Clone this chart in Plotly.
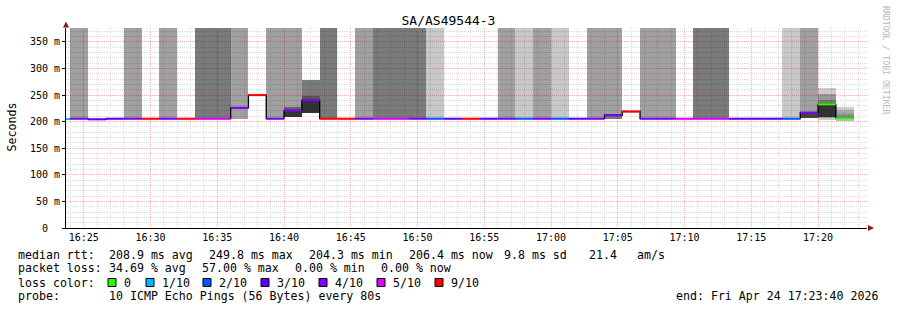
import pandas as pd
import plotly.graph_objects as go

# ---------------- data ----------------
TITLE = "SA/AS49544-3"
T_START = "2026-04-24 16:23:40"
T_END = "2026-04-24 17:23:40"
Y_TOP = 376  # top of value axis (ms)

# interval start times: one partial interval, then 44 x 80 s polling steps
bin_starts = pd.to_datetime([T_START] + list(pd.date_range("2026-04-24 16:24:00", periods=44, freq="80s")))
bin_ends = list(bin_starts[1:]) + [pd.Timestamp("2026-04-24 17:22:40")]

median_ms = [205.0,
             205.5, 204.3, 205.5, 205.5, 205.5, 205.5, 205.5, 205.5, 205.5, 226.0,
             249.8, 205.5, 221.0, 240.0, 205.5, 205.5, 205.5, 205.5, 205.5, 205.5,
             205.5, 205.5, 205.5, 205.5, 205.5, 205.5, 205.5, 205.5, 205.5, 205.5,
             212.0, 219.0, 205.5, 205.5, 205.5, 205.5, 205.5, 205.5, 205.5, 205.5,
             205.5, 217.0, 232.5, 206.4]

loss_tenths = [1,
               4, 3, 3, 4, 9, 4, 9, 5, 5, 4,
               9, 4, 4, 4, 9, 9, 4, 5, 5, 4,
               2, 3, 9, 3, 4, 2, 4, 2, 3, 4,
               4, 9, 4, 4, 5, 5, 5, 3, 3, 3,
               2, 4, 0, 0]

# loss background density: 0 none, 1 light, 2 medium, 3 dark
band_level = [0,
              2, 0, 0, 2, 0, 2, 0, 3, 3, 2,
              0, 2, 2, 0, 3, 0, 2, 3, 3, 3,
              1, 0, 0, 0, 2, 1, 2, 1, 0, 2,
              2, 0, 2, 2, 0, 3, 3, 0, 0, 0,
              1, 2, 0, 0]
band_low_ms = [204.5,
               204.5, 204.5, 204.5, 204.5, 204.5, 204.5, 204.5, 204.5, 204.5, 204.5,
               204.5, 204.5, 227.7, 204.5, 204.5, 204.5, 204.5, 204.5, 204.5, 204.5,
               204.5, 204.5, 204.5, 204.5, 204.5, 204.5, 204.5, 204.5, 204.5, 204.5,
               214.5, 204.5, 204.5, 204.5, 204.5, 204.5, 204.5, 204.5, 204.5, 204.5,
               204.5, 218.0, 204.5, 204.5]

# smoke layers (interval index, low ms, high ms, grey value)
smoke_bin = [13, 13, 14, 14, 14, 31, 42, 43, 43, 43, 43, 43, 43, 44, 44, 44, 44, 44]
smoke_lo = [222.0, 209.5, 248.0, 241.5, 217.0, 205.7, 206.0, 252.0, 241.0, 233.0, 209.0, 206.0, 203.0,
            222.0, 217.0, 212.6, 207.0, 202.0]
smoke_hi = [227.7, 220.7, 278.5, 248.0, 239.5, 214.5, 217.0, 263.5, 252.0, 241.0, 232.0, 209.0, 206.0,
            228.0, 222.0, 217.0, 212.6, 205.5]
smoke_grey = [0x66, 0x33, 0x7a, 0x55, 0x33, 0x77, 0x44, 0xcc, 0x99, 0x77, 0x33, 0x99, 0xcc,
              0xcc, 0xaa, 0x99, 0x88, 0xbb]

y_tickvals = [0, 50, 100, 150, 200, 250, 300, 350]
y_ticktext = ["0\u00a0\u00a0", "50 m", "100 m", "150 m", "200 m", "250 m", "300 m", "350 m"]

loss_levels = [0, 1, 2, 3, 4, 5, 9]
loss_labels = ["0", "1/10", "2/10", "3/10", "4/10", "5/10", "9/10"]
loss_colors = ["#26ff00", "#00b8ff", "#0059ff", "#5e00ff", "#7e00ff", "#dd00ff", "#ff0000"]

legend_rtt = ["median rtt:", "208.9 ms avg", "249.8 ms max", "204.3 ms min", "206.4 ms now",
              "9.8 ms sd", "21.4", "am/s"]
legend_loss = ["packet loss:", "34.69 % avg", "57.00 % max", "0.00 % min", "0.00 % now"]
probe_text = ["probe:", "10 ICMP Echo Pings (56 Bytes) every 80s"]
end_text = "end: Fri Apr 24 17:23:40 2026"

# ---------------- layout geometry ----------------
W, H = 897, 310
L, R, T, B = 66, 30, 28, 82
PW, PH = W - L - R, H - T - B
MONO = "DejaVu Sans Mono"


def px_x(px):
    return (px - L) / PW


def px_y(py):
    return (T + PH - py) / PH


band_alpha = {1: 0.215, 2: 0.373, 3: 0.52}
color_of = dict(zip(loss_levels, loss_colors))

fig = go.Figure()

# loss background bands
bx, bw, bb, by, bc = [], [], [], [], []
for s, e, lvl, lo in zip(bin_starts, bin_ends, band_level, band_low_ms):
    if lvl == 0:
        continue
    bx.append(s)
    bw.append((e - s).total_seconds() * 1000)
    bb.append(lo)
    by.append(Y_TOP - lo)
    bc.append(f"rgba(0,0,0,{band_alpha[lvl]})")
fig.add_trace(go.Bar(x=bx, y=by, base=bb, width=bw, offset=0, marker=dict(color=bc, line_width=0),
                     hoverinfo="skip", showlegend=False))

# smoke
sx, sw, sb, sy, sc = [], [], [], [], []
for i, lo, hi, g in zip(smoke_bin, smoke_lo, smoke_hi, smoke_grey):
    sx.append(bin_starts[i])
    sw.append((bin_ends[i] - bin_starts[i]).total_seconds() * 1000)
    sb.append(lo)
    sy.append(hi - lo)
    sc.append(f"rgba(0,0,0,{1 - g / 255:.3f})")
fig.add_trace(go.Bar(x=sx, y=sy, base=sb, width=sw, offset=0, marker=dict(color=sc, line_width=0),
                     hoverinfo="skip", showlegend=False))

# black median step line
fig.add_trace(go.Scatter(x=list(bin_starts) + [bin_ends[-1]], y=median_ms + [median_ms[-1]],
                         mode="lines", line=dict(color="#000000", width=1.3, shape="hv"),
                         hoverinfo="skip", showlegend=False))

# coloured median segments per loss level
for lvl in loss_levels:
    xs, ys = [], []
    for s, e, m, l in zip(bin_starts, bin_ends, median_ms, loss_tenths):
        if l == lvl:
            xs += [s, e, None]
            ys += [m, m, None]
    if xs:
        fig.add_trace(go.Scatter(x=xs, y=ys, mode="lines", line=dict(color=color_of[lvl], width=2),
                                 hoverinfo="skip", showlegend=False, connectgaps=False))

ann = []
shapes = []
txt_font = dict(family=MONO, size=11.6, color="#000000")


def add_text(px, py, text, **kw):
    d = dict(x=px_x(px), y=px_y(py), xref="paper", yref="paper", text=text, showarrow=False,
             xanchor="left", yanchor="middle", font=txt_font)
    d.update(kw)
    ann.append(d)


for px, t in zip([16, 107, 207, 307, 407, 502, 587, 635], legend_rtt):
    add_text(px, 254.5, t)
for px, t in zip([16, 107, 200, 293, 379], legend_loss):
    add_text(px, 268, t)
add_text(16, 282.5, "loss color:")
sq_x = [108, 146, 203, 261, 319, 377, 435]
for px, lab, col in zip(sq_x, loss_labels, loss_colors):
    shapes.append(dict(type="rect", xref="paper", yref="paper", x0=px_x(px), x1=px_x(px + 8),
                       y0=px_y(286.5), y1=px_y(278.5), fillcolor=col, line=dict(color="#000000", width=1)))
    add_text(px + 14, 282.5, lab)
for px, t in zip([16, 107], probe_text):
    add_text(px, 296, t)
add_text(880, 296, end_text, xanchor="right")

# y label, watermark
ann.append(dict(x=px_x(11.5), y=px_y(127), xref="paper", yref="paper", text="Seconds", textangle=-90,
                showarrow=False, xanchor="center", yanchor="middle", font=txt_font))
ann.append(dict(x=px_x(886), y=px_y(60), xref="paper", yref="paper", text="RRDTOOL / TOBI OETIKER",
                textangle=90, showarrow=False, xanchor="center", yanchor="middle",
                font=dict(family=MONO, size=8.2, color="#b8b8b8")))

# axis arrows
ann.append(dict(x=0, y=px_y(21.5), xref="paper", yref="paper", ax=0, ay=7, axref="pixel", ayref="pixel",
                text="", showarrow=True, arrowhead=2, arrowsize=1.2, arrowwidth=1, arrowcolor="#8b1a1a"))
ann.append(dict(x=px_x(874), y=0, xref="paper", yref="paper", ax=-7, ay=0, axref="pixel", ayref="pixel",
                text="", showarrow=True, arrowhead=2, arrowsize=1.2, arrowwidth=1, arrowcolor="#8b1a1a"))

MAJOR_GRID = "#f5b0b0"
MINOR_GRID = "#dadada"

fig.update_layout(
    width=W, height=H, margin=dict(l=L, r=R, t=T, b=B, pad=0),
    paper_bgcolor="#ffffff", plot_bgcolor="#ffffff",
    barmode="overlay", bargap=0, showlegend=False,
    title=dict(text=TITLE, x=0.5, xref="container", xanchor="center", y=1 - 20 / H, yref="container",
               yanchor="middle", font=dict(family=MONO, size=13, color="#000000")),
    annotations=ann, shapes=shapes,
)
fig.update_xaxes(
    type="date", range=[T_START, T_END], tick0="2026-04-24 16:25:00", dtick=300000,
    tickformat="%H:%M", tickfont=dict(family=MONO, size=10, color="#000000"),
    showgrid=True, gridcolor=MAJOR_GRID, griddash="1px,1px", gridwidth=1,
    minor=dict(dtick=60000, tick0="2026-04-24 16:25:00", showgrid=True, gridcolor=MINOR_GRID,
               griddash="1px,1px", gridwidth=1),
    showline=True, linecolor="#000000", linewidth=1, zeroline=False, ticks="", fixedrange=True,
)
fig.update_yaxes(
    range=[0, Y_TOP], tickvals=y_tickvals, ticktext=y_ticktext,
    tickfont=dict(family=MONO, size=10, color="#000000"),
    showgrid=True, gridcolor=MAJOR_GRID, griddash="1px,1px", gridwidth=1,
    minor=dict(dtick=10, tick0=0, showgrid=True, gridcolor=MINOR_GRID, griddash="1px,1px", gridwidth=1),
    showline=True, linecolor="#000000", linewidth=1, zeroline=False,
    ticks="outside", ticklen=3, tickcolor="#000000", fixedrange=True,
)

fig.write_html("out.html")
